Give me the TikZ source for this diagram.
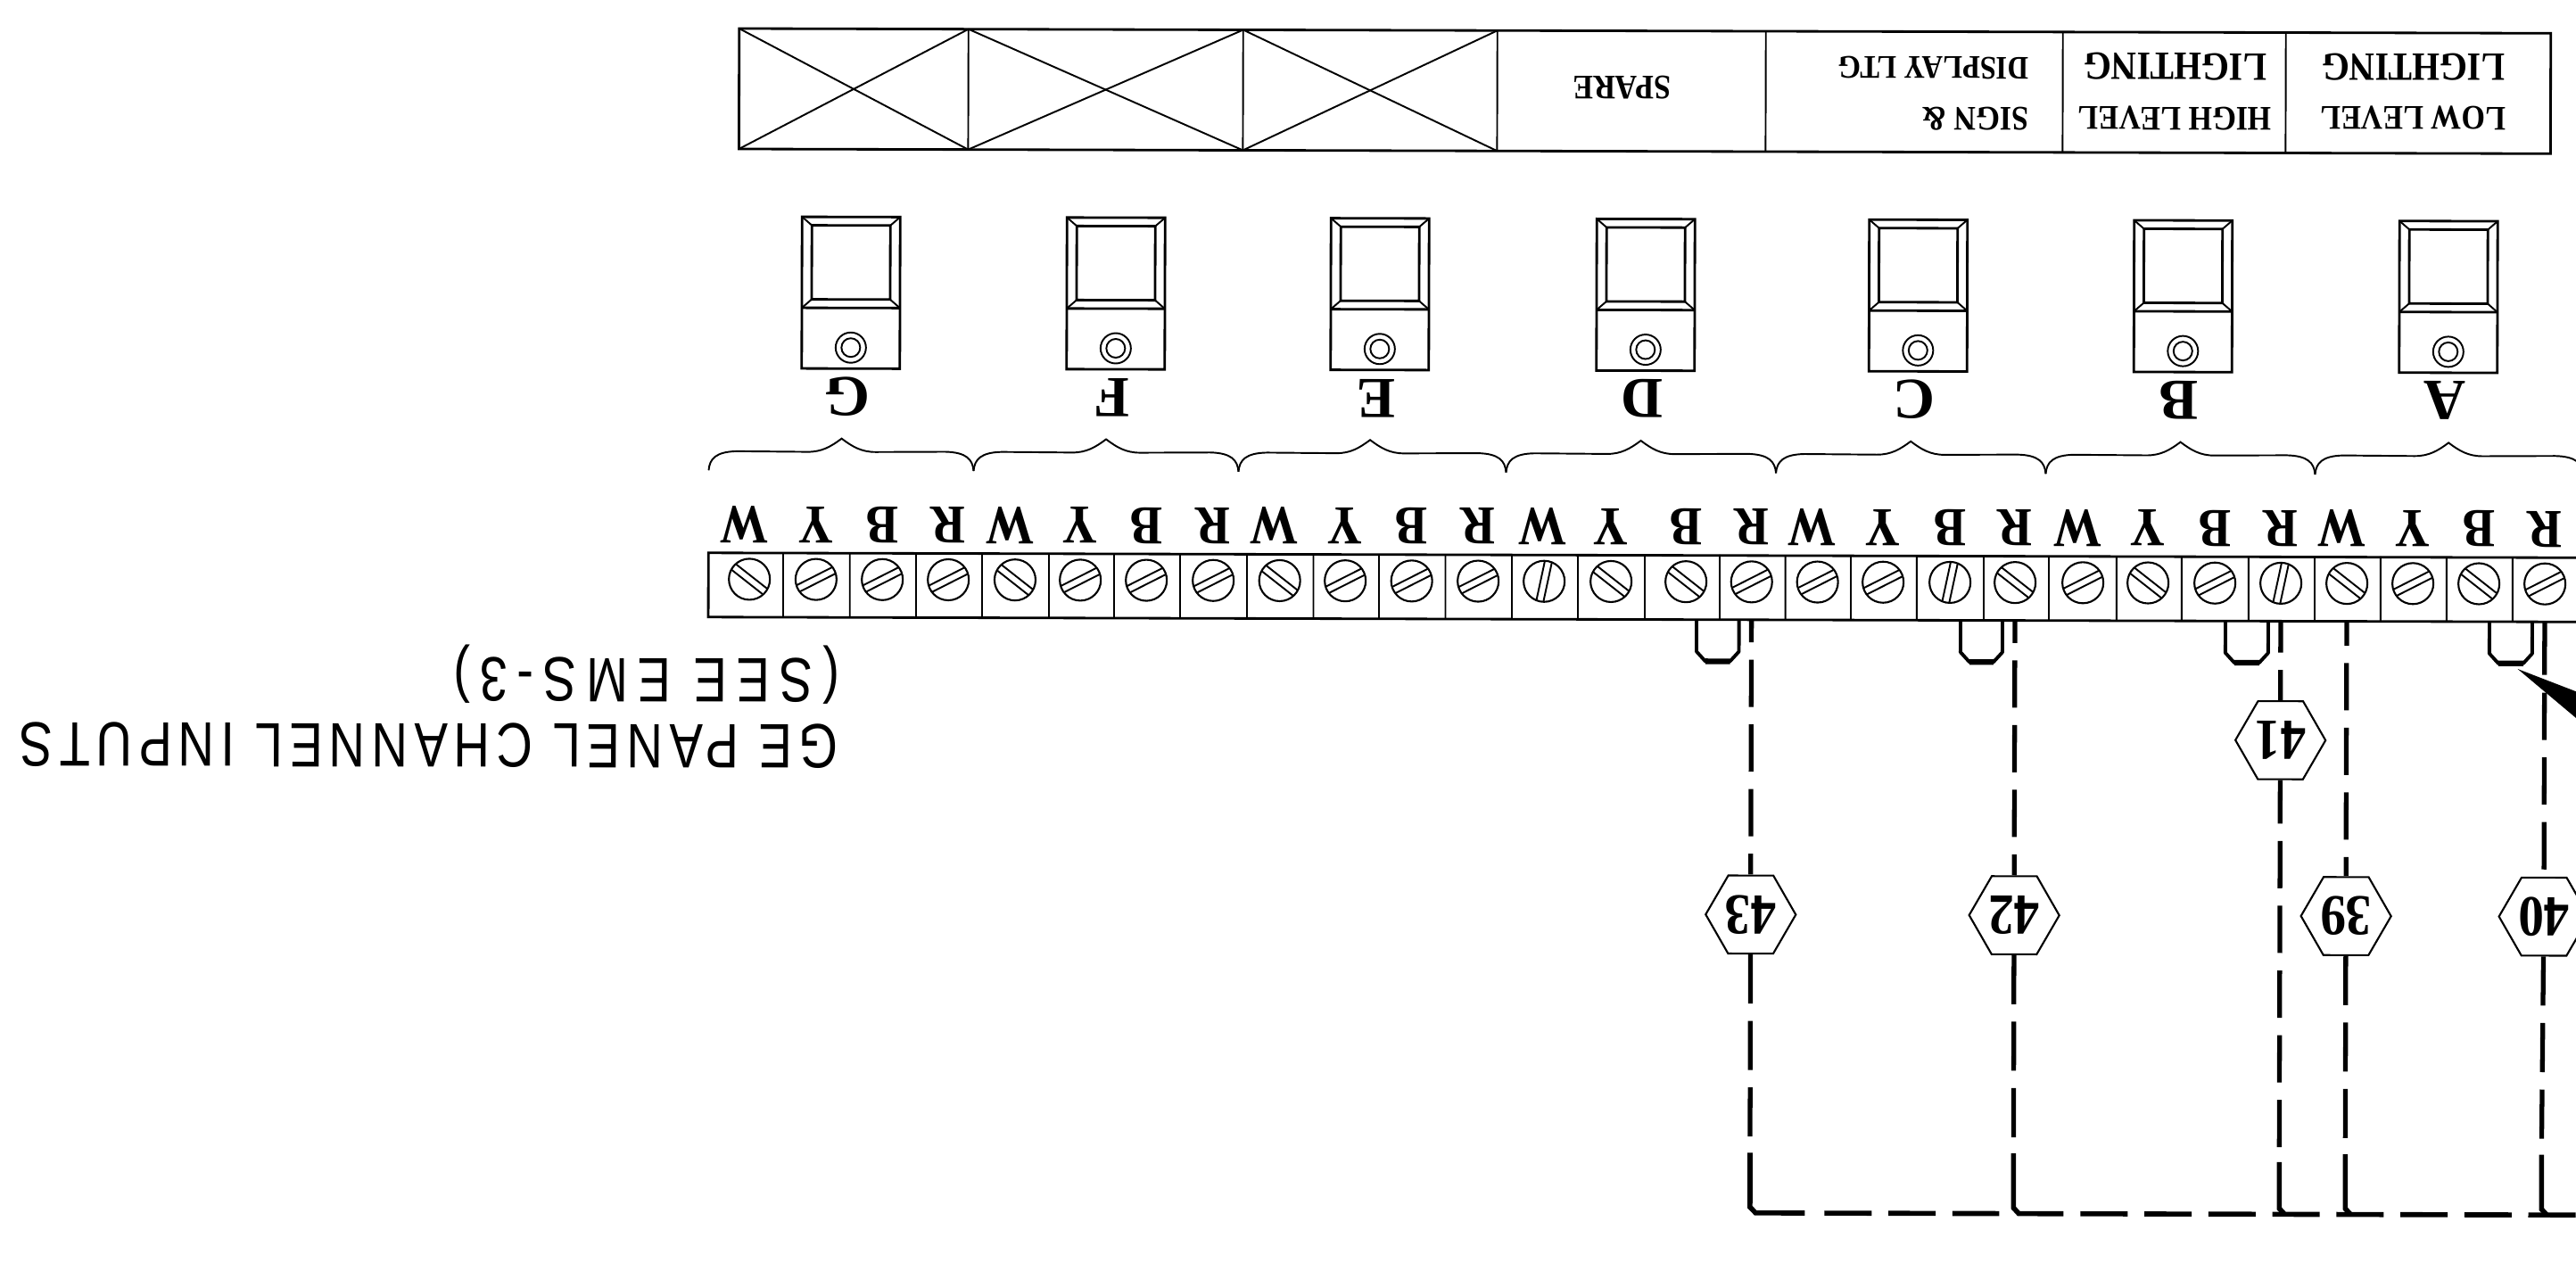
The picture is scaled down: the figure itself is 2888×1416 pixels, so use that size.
\documentclass[tikz,border=0pt]{standalone}
\usepackage{fontspec}
\usepackage{tikz}
\usetikzlibrary{calc,shapes.geometric}

\setmainfont{Liberation Serif}
\newfontfamily\cadfont[FakeStretch=0.8,LetterSpace=10]{Liberation Sans}
\newfontfamily\seefont[FakeStretch=0.8,LetterSpace=15]{Liberation Sans}
\newfontfamily\termfont[FakeStretch=0.88]{Liberation Serif}

\tikzset{
    frameline/.style={line width=0.8pt},
    thinline/.style={line width=0.55pt},
    uplabel/.style={rotate=179.85, inner sep=0pt},
    tablelabel/.style={uplabel, font=\termfont\bfseries\fontsize{11}{13}\selectfont},
    biglabel/.style={uplabel, font=\termfont\bfseries\fontsize{12.8}{15}\selectfont},
    panelletter/.style={uplabel, font=\bfseries\fontsize{18.5}{22}\selectfont},
    termletter/.style={uplabel, font=\termfont\bfseries\fontsize{17.5}{20}\selectfont},
    cell/.style={minimum width=0.744cm, minimum height=0.72cm, inner sep=0pt},
    screw/.style={circle, draw, line width=0.6pt, minimum size=0.46cm, inner sep=0pt},
    hexnum/.style={regular polygon, regular polygon sides=6, draw,
        fill=white, line width=0.6pt, minimum size=1.01cm, inner sep=0pt, rotate=179.85,
        font=\termfont\bfseries\fontsize{18.5}{20}\selectfont},
    cadlabel/.style={uplabel, anchor=base, font=\cadfont\fontsize{20}{24}\selectfont},
    wire/.style={line width=1.5pt, dash pattern=on 0.53cm off 0.195cm},
    wirelow/.style={line width=1.5pt, dash pattern=on 0.55cm off 0.195cm},
    wirerun/.style={line width=1.6pt},
    jumper/.style={line width=1.1pt, line join=round},
}

\begin{document}
\begin{tikzpicture}[x=0.01cm, y=-0.01cm]
    \useasboundingbox (0,0) rectangle (2888,1416);

    \begin{scope}[rotate around={-0.15:(1444,708)}]
        % Draw the table
        \draw[frameline] (827,33.6) rectangle (2858,168.6);
        \foreach \x in {1084,1392,1677,1978,2311,2561}
            \draw[thinline] (\x,33.6) -- (\x,168.6);
        \foreach \a/\b in {827/1084,1084/1392,1392/1677}{
            \draw[thinline] (\a,33.6) -- (\b,168.6);
            \draw[thinline] (\a,168.6) -- (\b,33.6);
        }

        % Label the table
        \node[tablelabel] (spare) at (1817,97) {SPARE};
        \node[tablelabel] (sign) at (2213,131) {SIGN \&};
        \node[tablelabel, font=\termfont\bfseries\fontsize{10.5}{13}\selectfont] (display) at (2166,74) {DISPLAY LTG};
        \node[tablelabel] (high) at (2437,130) {HIGH LEVEL};
        \node[biglabel] (highltg) at (2437,72) {LIGHTING};
        \node[tablelabel] (low) at (2704,129) {LOW LEVEL};
        \node[biglabel] (lowltg) at (2704,72) {LIGHTING};

        % Draw the panels
        \foreach \x/\txt in {953/G,1250/F,1546/E,1844/D,2149.5/C,2446.5/B,2744/A}{
            \begin{scope}[shift={(\x,0)}]
                \draw[frameline] (-55,244.5) rectangle (55,414.5);
                \draw[frameline] (-55,346.5) -- (55,346.5);
                \draw[frameline] (-44,254) rectangle (44,337);
                \draw[thinline] (-55,244.5) -- (-44,254);
                \draw[thinline] (55,244.5) -- (44,254);
                \draw[thinline] (-55,346.5) -- (-44,337);
                \draw[thinline] (55,346.5) -- (44,337);
                \draw[thinline] (0,391) circle (17);
                \draw[thinline] (0,391) circle (10.5);
            \end{scope}
            \node[panelletter] (panel\txt) at (\x-4,446) {\txt};
        }

        % Draw the braces
        \foreach \a/\p/\b in {794/943/1091,1091/1239.5/1388,1388/1535.5/1688,1688/1839/1990.6,
                1990.6/2141.6/2293,2293/2444/2595,2595/2744.6/2896}
            \draw[thinline] (\a,529) .. controls (\a+1,516) and (\a+8,508) .. (\a+32,507.5)
                -- (\p-38,508) .. controls (\p-22,508) and (\p-12,502) .. (\p,493)
                .. controls (\p+12,502) and (\p+22,508) .. (\p+38,508)
                -- (\b-32,507.5) .. controls (\b-8,508) and (\b-1,516) .. (\b,529);

        % Draw the terminal strip
        \draw[frameline] (794,621.5) rectangle (2900,693.5);
        \foreach \i/\x/\txt/\ang/\off in {
                0/840/W/-38/-6,1/914.7/Y/27/0,2/989/B/27/0,3/1063/R/27/0,
                4/1137.8/W/-38/-6,5/1211/Y/27/0,6/1285/B/27/0,7/1360/R/27/0,
                8/1434.5/W/-38/-6,9/1508/Y/27/0,10/1582.5/B/27/0,11/1657/R/27/0,
                12/1731/W/78/-2,13/1806/Y/-38/0,14/1890/B/-38/0,15/1963.6/R/27/0,
                16/2037.5/W/27/-6,17/2111/Y/27/0,18/2186/B/78/0,19/2259/R/-38/0,
                20/2335/W/27/-6,21/2408/Y/-38/0,22/2483/B/27/0,23/2557/R/78/0,
                24/2631/W/-38/-6,25/2705/Y/27/0,26/2779/B/-38/0,27/2853/R/27/0}{
            \node[cell] (t\i) at (\x,657.5) {};
            \draw[thinline] (t\i.north east) -- (t\i.south east);
            \node[screw] (s\i) at (\x,651) {};
            \begin{scope}[shift={(\x,651)}, rotate=\ang]
                \draw[thinline] (-22,4) -- (22,4);
                \draw[thinline] (-22,-4) -- (22,-4);
            \end{scope}
            \node[termletter] (l\i) at (\x+\off,589.5) {\txt};
        }

        % Draw the jumpers
        \foreach \a/\b in {14/15,18/19,22/23,26/27}{
            \draw[jumper] ($(t\a.south)+(12,0)$) -- ++(0,35) -- ++(10,11)
                -- ($(t\b.south)+(-24,46)$) -- ++(10,-11) -- ++(0,-35);
            \draw[line width=1.8pt] ($(t\a.south)+(22,46)$) -- ($(t\b.south)+(-24,46)$);
        }

        % Place the wire numbers
        \node[hexnum] (h43) at (1963.6,1024) {43};
        \node[hexnum] (h42) at (2259,1024) {42};
        \node[hexnum] (h41) at (2557,827) {41};
        \node[hexnum] (h39) at (2631,1024) {39};
        \node[hexnum] (h40) at (2853,1024) {40};

        % Draw the wires down from the strip
        \draw[wire, dash phase=0.285cm] (t15.south) -- (h43);
        \draw[wire, dash phase=0.285cm] (t19.south) -- (h42);
        \draw[wire, dash phase=0.185cm] (t23.south) -- (h41);
        \draw[wire, dash phase=0.265cm] (t24.south) -- (h39);
        \coordinate (w40a) at (2853,753);
        \coordinate (w40b) at (2853,773);
        \draw[line width=1.5pt] (t27.south) -- (w40a);
        \draw[wire] (w40b) -- (h40);

        % Draw the wires down to the run
        \coordinate (c43) at (1963.6,1291);
        \coordinate (c42) at (2259,1291);
        \coordinate (c41) at (2557,1300);
        \coordinate (c39) at (2631,1291);
        \coordinate (c40) at (2851,1291);
        \draw[wirelow] (h43) -- (c43);
        \draw[wirelow] (h42) -- (c42);
        \draw[wire, dash phase=0.043cm] (h41) -- (c41);
        \draw[wirelow] (h39) -- (c39);
        \draw[wirelow] (h40) -- (c40);

        % Draw the bottom run
        \draw[wirerun] (c43) -- (1963.6,1352) -- (1970,1358.5) -- (2025,1358.5);
        \draw[wirerun] (c42) -- (2259,1352) -- (2265,1358.5) -- (2315,1358.5);
        \draw[wirerun] (c41) -- (2557,1352) -- (2563,1358.5);
        \draw[wirerun] (c39) -- (2631,1352) -- (2637,1358.5);
        \draw[wirerun] (c40) -- (2851,1352) -- (2857,1358.5);
        \draw[wirerun, dash pattern=on 0.53cm off 0.187cm] (2047,1358.5) -- (2243,1358.5);
        \draw[wirerun, dash pattern=on 0.53cm off 0.187cm] (2334,1358.5) -- (2910,1358.5);

        % Draw the pointer at the edge
        \fill (2822.7,746.4) -- (2900,776) -- (2900,811) -- cycle;

        % Label the panel inputs
        \node[cadlabel, font=\seefont\fontsize{20}{24}\selectfont] (see) at (725,740) {(SEE EMS-3)};
        \node[cadlabel] (ge) at (481,814) {GE PANEL CHANNEL INPUTS};
    \end{scope}
\end{tikzpicture}
\end{document}
